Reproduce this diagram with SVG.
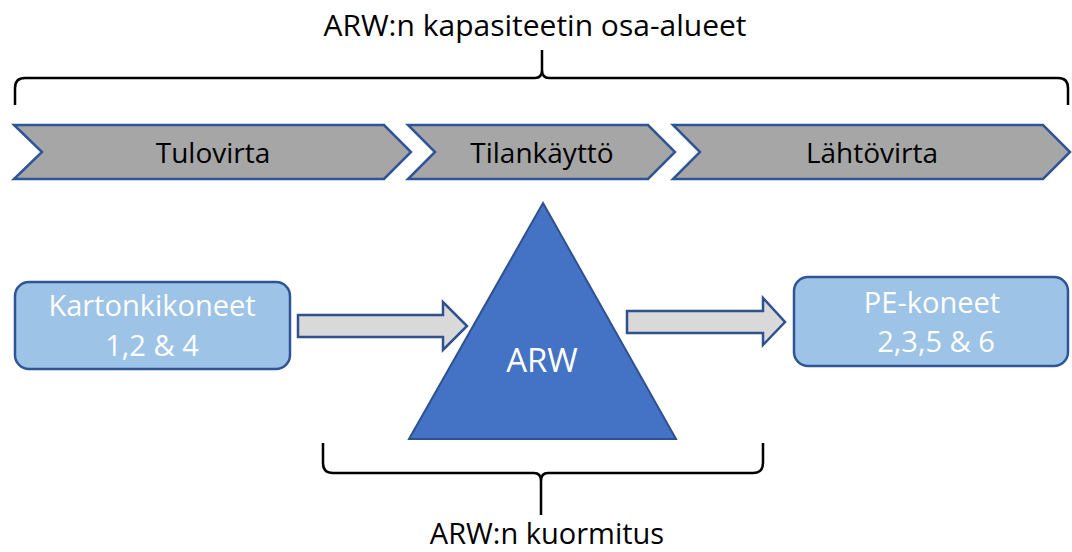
<svg xmlns="http://www.w3.org/2000/svg" width="1072" height="552" viewBox="0 0 1072 552">
  <style>
    text { font-family: "Open Sans", "Noto Sans", "Liberation Sans", sans-serif; text-anchor: middle; }
    .title { font-size: 30px; fill: #000; }
    .stage { fill: #a6a6a6; stroke: #2f5597; stroke-width: 2.5; stroke-linejoin: miter; }
    .stage-label { font-size: 28px; fill: #000; }
    .box { fill: #9dc3e6; stroke: #2f5597; stroke-width: 2.5; }
    .box-label { font-size: 29px; fill: #fff; }
    .flow { fill: #d9d9d9; stroke: #2f528f; stroke-width: 2.5; stroke-linejoin: miter; }
    .brace { fill: none; stroke: #000; stroke-width: 2.5; stroke-linecap: butt; }
  </style>

  <rect width="1072" height="552" fill="#fff"/>

  <!-- overall scope bracket -->
  <g id="capacity-scope">
    <path class="brace" d="M15,105 V88 Q15,78 25,78 H535 Q542,78 542,70 V50 M542,70 Q542,78 549,78 H1058 Q1068,78 1068,88 V105"/>
    <text class="title" x="535" y="36">ARW:n kapasiteetin osa-alueet</text>
  </g>

  <!-- process stages -->
  <g id="stage-tulovirta">
    <polygon class="stage" points="14,125 384,125 411,152 384,179 14,179 42,152"/>
    <text class="stage-label" x="213" y="163">Tulovirta</text>
  </g>
  <g id="stage-tilankaytto">
    <polygon class="stage" points="408,125 648,125 675,152 648,179 408,179 435,152"/>
    <text class="stage-label" x="542" y="163">Tilankäyttö</text>
  </g>
  <g id="stage-lahtovirta">
    <polygon class="stage" points="673,125 1043,125 1070,152 1043,179 673,179 700,152"/>
    <text class="stage-label" x="872" y="163">Lähtövirta</text>
  </g>

  <!-- source machines -->
  <g id="node-kartonkikoneet">
    <rect class="box" x="15" y="282" width="275" height="87" rx="14"/>
    <text class="box-label" x="152" y="316">Kartonkikoneet</text>
    <text class="box-label" x="152" y="356">1,2 &amp; 4</text>
  </g>

  <!-- ARW -->
  <g id="node-arw">
    <polygon points="543,203 676,439 409,439" fill="#4472c4" stroke="#2f528f" stroke-width="2"/>
    <text class="box-label" x="542" y="372" style="font-size:33px">ARW</text>
  </g>

  <!-- target machines -->
  <g id="node-pe-koneet">
    <rect class="box" x="794" y="277" width="274" height="89" rx="14"/>
    <text class="box-label" x="932" y="313">PE-koneet</text>
    <text class="box-label" x="936" y="352">2,3,5 &amp; 6</text>
  </g>

  <!-- flow arrows -->
  <g id="connectors">
    <polygon class="flow" points="298,315 443,315 443,302 467,326 443,350 443,337 298,337"/>
    <polygon class="flow" points="627,311 763,311 763,298 785,322 763,345 763,333 627,333"/>
  </g>

  <!-- load bracket -->
  <g id="load-scope">
    <path class="brace" d="M323,443 V463 Q323,473 333,473 H534 Q541,473 541,481 V515 M541,481 Q541,473 548,473 H753 Q763,473 763,463 V443"/>
    <text class="title" x="547" y="544" style="font-size:29px">ARW:n kuormitus</text>
  </g>
</svg>
